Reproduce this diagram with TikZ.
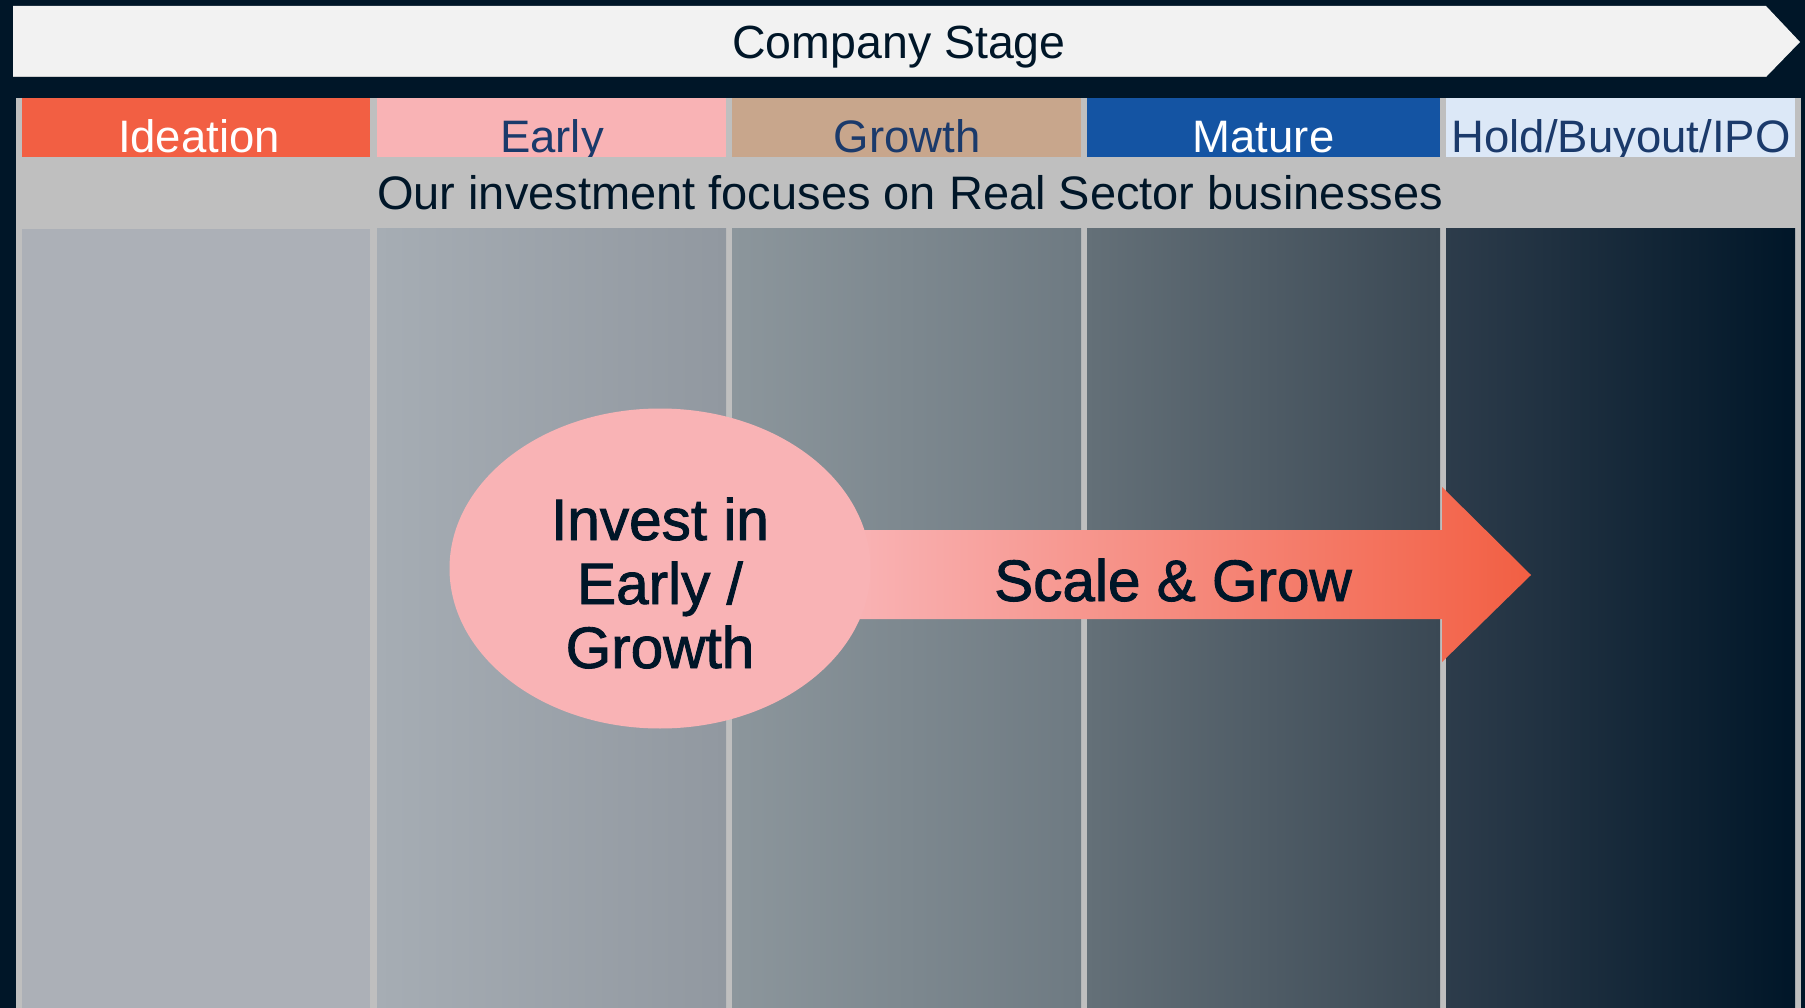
\documentclass[tikz,border=0pt]{standalone}
\usepackage{fontspec}
\setmainfont{Liberation Sans}
\definecolor{navybg}{RGB}{0,22,40}
\definecolor{bannerc}{RGB}{242,242,242}
\definecolor{framec}{RGB}{191,191,191}
\definecolor{ideac}{RGB}{242,95,67}
\definecolor{earlyc}{RGB}{249,179,181}
\definecolor{growc}{RGB}{200,166,140}
\definecolor{maturec}{RGB}{20,84,163}
\definecolor{holdc}{RGB}{220,232,247}
\definecolor{hdtext}{RGB}{27,58,107}
\definecolor{darktext}{RGB}{0,22,40}
\definecolor{gA}{RGB}{172,176,183}
\definecolor{gB1}{RGB}{166,173,180}
\definecolor{gB2}{RGB}{145,152,160}
\definecolor{gC1}{RGB}{140,150,156}
\definecolor{gC2}{RGB}{110,122,130}
\definecolor{gD1}{RGB}{100,112,120}
\definecolor{gD2}{RGB}{58,72,84}
\definecolor{gE1}{RGB}{45,60,75}
\definecolor{gE2}{RGB}{0,22,40}
\newcommand{\heavytxt}[1]{\special{pdf:literal direct 2 Tr 0.9 w}#1\special{pdf:literal direct 0 Tr}}
\tikzset{
  hdtxt/.style={anchor=base, inner sep=0pt, font=\fontsize{45.5}{50}\selectfont},
  bigtxt/.style={anchor=base, inner sep=0pt, font=\fontsize{58.5}{64}\selectfont, text=darktext}
}
\begin{document}
\begin{tikzpicture}[x=1pt,y=-1pt]
\useasboundingbox (0,0) rectangle (1805,1008);
\fill[navybg] (0,0) rectangle (1805,1008);
% banner
\fill[bannerc] (13,6) -- (1766,6) -- (1800,42) -- (1766,77) -- (13,77) -- cycle;
\draw[line width=1.5pt, color=framec!80!white] (13,76.5) -- (1766,76.5);
\node[anchor=base, inner sep=0pt, font=\fontsize{46.5}{50}\selectfont, text=darktext] (stage) at (899,59) {Company Stage};
% frame
\fill[framec] (16,98) rectangle (1801,1008);
% headers
\fill[ideac] (22,98) rectangle (370,157);
\fill[earlyc] (377,98) rectangle (726,157);
\fill[growc] (732,98) rectangle (1081,157);
\fill[maturec] (1087,98) rectangle (1440,157);
\fill[holdc] (1446,98) rectangle (1795,157);
\node[hdtxt, text=white] (h1) at (199,153) {Ideation};
\node[hdtxt, text=hdtext] (h2) at (552,153) {Early};
\node[hdtxt, text=hdtext] (h3) at (907,153) {Growth};
\node[hdtxt, text=white] (h4) at (1263.5,153) {Mature};
\node[hdtxt, text=hdtext] (h5) at (1621,153) {Hold/Buyout/IPO};
% band
\fill[framec] (16,157) rectangle (1801,229);
\node[anchor=base, inner sep=0pt, font=\fontsize{47}{50}\selectfont, text=darktext] (band) at (910,210) {Our investment focuses on Real Sector businesses};
% columns
\fill[gA] (22,229) rectangle (370,1008);
\shade[left color=gB1, right color=gB2] (377,229) rectangle (726,1008);
\shade[left color=gC1, right color=gC2] (732,229) rectangle (1081,1008);
\shade[left color=gD1, right color=gD2] (1087,229) rectangle (1440,1008);
\shade[left color=gE1, right color=gE2] (1446,229) rectangle (1795,1008);
% arrow
\shade[left color=earlyc, right color=ideac] (850,530) -- (1442,530) -- (1442,487) -- (1531,575) -- (1442,662) -- (1442,619) -- (850,619) -- cycle;
% ellipse
\fill[earlyc] (660,568.5) ellipse [x radius=210.5, y radius=160];
\node[bigtxt] (inv1) at (660,540) {\heavytxt{Invest in}};
\node[bigtxt] (inv2) at (660,604) {\heavytxt{Early /}};
\node[bigtxt] (inv3) at (660,668) {\heavytxt{Growth}};
\node[bigtxt] (scale) at (1173,601) {\heavytxt{Scale \& Grow}};
\end{tikzpicture}
\end{document}
